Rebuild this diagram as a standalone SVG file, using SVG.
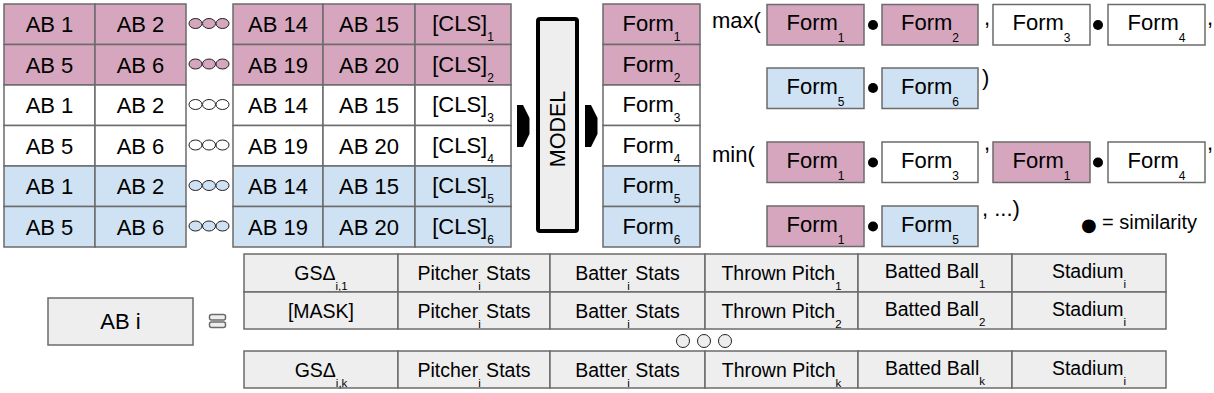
<svg xmlns="http://www.w3.org/2000/svg" width="1214" height="393" viewBox="0 0 1214 393">
<style>
.pk{fill:#d5a6bd}.wh{fill:#ffffff}.bl{fill:#cfe2f3}.gy{fill:#eeeeee}
.c{stroke:#6b6b6b;stroke-width:1.5}
.t{font-family:"Liberation Sans",Arial,sans-serif;font-size:22px;fill:#000;text-anchor:middle}
.l{font-family:"Liberation Sans",Arial,sans-serif;font-size:22px;fill:#000}
.s{font-size:12px}
.bt{font-family:"Liberation Sans",Arial,sans-serif;font-size:19.5px;fill:#000;text-anchor:middle}
.bs{font-size:11.5px;fill:#000}
.o{stroke:#222;stroke-width:1}
.dot{fill:#000}
</style>
<rect width="1214" height="393" fill="#fff"/>

<!-- Row 0 -->
<g id="r0">
<g id="r0c0"><rect class="pk c" x="4" y="4" width="91" height="40.5"/><text class="t" x="49.5" y="32">AB 1</text></g>
<g id="r0c1"><rect class="pk c" x="95" y="4" width="91" height="40.5"/><text class="t" x="140.5" y="32">AB 2</text></g>
<g id="r0dots"><ellipse class="pk o" cx="195.5" cy="23.5" rx="6.5" ry="5"/><ellipse class="pk o" cx="209" cy="23.5" rx="6.5" ry="5"/><ellipse class="pk o" cx="222.5" cy="23.5" rx="6.5" ry="5"/></g>
<g id="r0c2"><rect class="pk c" x="233" y="4" width="90" height="40.5"/><text class="t" x="278" y="32">AB 14</text></g>
<g id="r0c3"><rect class="pk c" x="323" y="4" width="92" height="40.5"/><text class="t" x="369" y="32">AB 15</text></g>
<g id="r0c4"><rect class="pk c" x="415" y="4" width="96" height="40.5"/><text class="t" x="463" y="31">[CLS]<tspan class="s" dy="10">1</tspan></text></g>
</g>
<!-- Row 1 -->
<g id="r1">
<g id="r1c0"><rect class="pk c" x="4" y="44.5" width="91" height="40.5"/><text class="t" x="49.5" y="72.5">AB 5</text></g>
<g id="r1c1"><rect class="pk c" x="95" y="44.5" width="91" height="40.5"/><text class="t" x="140.5" y="72.5">AB 6</text></g>
<g id="r1dots"><ellipse class="pk o" cx="195.5" cy="64" rx="6.5" ry="5"/><ellipse class="pk o" cx="209" cy="64" rx="6.5" ry="5"/><ellipse class="pk o" cx="222.5" cy="64" rx="6.5" ry="5"/></g>
<g id="r1c2"><rect class="pk c" x="233" y="44.5" width="90" height="40.5"/><text class="t" x="278" y="72.5">AB 19</text></g>
<g id="r1c3"><rect class="pk c" x="323" y="44.5" width="92" height="40.5"/><text class="t" x="369" y="72.5">AB 20</text></g>
<g id="r1c4"><rect class="pk c" x="415" y="44.5" width="96" height="40.5"/><text class="t" x="463" y="71.5">[CLS]<tspan class="s" dy="10">2</tspan></text></g>
</g>
<!-- Row 2 -->
<g id="r2">
<g id="r2c0"><rect class="wh c" x="4" y="85" width="91" height="40.5"/><text class="t" x="49.5" y="113">AB 1</text></g>
<g id="r2c1"><rect class="wh c" x="95" y="85" width="91" height="40.5"/><text class="t" x="140.5" y="113">AB 2</text></g>
<g id="r2dots"><ellipse class="wh o" cx="195.5" cy="104.5" rx="6.5" ry="5"/><ellipse class="wh o" cx="209" cy="104.5" rx="6.5" ry="5"/><ellipse class="wh o" cx="222.5" cy="104.5" rx="6.5" ry="5"/></g>
<g id="r2c2"><rect class="wh c" x="233" y="85" width="90" height="40.5"/><text class="t" x="278" y="113">AB 14</text></g>
<g id="r2c3"><rect class="wh c" x="323" y="85" width="92" height="40.5"/><text class="t" x="369" y="113">AB 15</text></g>
<g id="r2c4"><rect class="wh c" x="415" y="85" width="96" height="40.5"/><text class="t" x="463" y="112">[CLS]<tspan class="s" dy="10">3</tspan></text></g>
</g>
<!-- Row 3 -->
<g id="r3">
<g id="r3c0"><rect class="wh c" x="4" y="125.5" width="91" height="40.5"/><text class="t" x="49.5" y="153.5">AB 5</text></g>
<g id="r3c1"><rect class="wh c" x="95" y="125.5" width="91" height="40.5"/><text class="t" x="140.5" y="153.5">AB 6</text></g>
<g id="r3dots"><ellipse class="wh o" cx="195.5" cy="145" rx="6.5" ry="5"/><ellipse class="wh o" cx="209" cy="145" rx="6.5" ry="5"/><ellipse class="wh o" cx="222.5" cy="145" rx="6.5" ry="5"/></g>
<g id="r3c2"><rect class="wh c" x="233" y="125.5" width="90" height="40.5"/><text class="t" x="278" y="153.5">AB 19</text></g>
<g id="r3c3"><rect class="wh c" x="323" y="125.5" width="92" height="40.5"/><text class="t" x="369" y="153.5">AB 20</text></g>
<g id="r3c4"><rect class="wh c" x="415" y="125.5" width="96" height="40.5"/><text class="t" x="463" y="152.5">[CLS]<tspan class="s" dy="10">4</tspan></text></g>
</g>
<!-- Row 4 -->
<g id="r4">
<g id="r4c0"><rect class="bl c" x="4" y="166" width="91" height="40.5"/><text class="t" x="49.5" y="194">AB 1</text></g>
<g id="r4c1"><rect class="bl c" x="95" y="166" width="91" height="40.5"/><text class="t" x="140.5" y="194">AB 2</text></g>
<g id="r4dots"><ellipse class="bl o" cx="195.5" cy="185.5" rx="6.5" ry="5"/><ellipse class="bl o" cx="209" cy="185.5" rx="6.5" ry="5"/><ellipse class="bl o" cx="222.5" cy="185.5" rx="6.5" ry="5"/></g>
<g id="r4c2"><rect class="bl c" x="233" y="166" width="90" height="40.5"/><text class="t" x="278" y="194">AB 14</text></g>
<g id="r4c3"><rect class="bl c" x="323" y="166" width="92" height="40.5"/><text class="t" x="369" y="194">AB 15</text></g>
<g id="r4c4"><rect class="bl c" x="415" y="166" width="96" height="40.5"/><text class="t" x="463" y="193">[CLS]<tspan class="s" dy="10">5</tspan></text></g>
</g>
<!-- Row 5 -->
<g id="r5">
<g id="r5c0"><rect class="bl c" x="4" y="206.5" width="91" height="40.5"/><text class="t" x="49.5" y="234.5">AB 5</text></g>
<g id="r5c1"><rect class="bl c" x="95" y="206.5" width="91" height="40.5"/><text class="t" x="140.5" y="234.5">AB 6</text></g>
<g id="r5dots"><ellipse class="bl o" cx="195.5" cy="226" rx="6.5" ry="5"/><ellipse class="bl o" cx="209" cy="226" rx="6.5" ry="5"/><ellipse class="bl o" cx="222.5" cy="226" rx="6.5" ry="5"/></g>
<g id="r5c2"><rect class="bl c" x="233" y="206.5" width="90" height="40.5"/><text class="t" x="278" y="234.5">AB 19</text></g>
<g id="r5c3"><rect class="bl c" x="323" y="206.5" width="92" height="40.5"/><text class="t" x="369" y="234.5">AB 20</text></g>
<g id="r5c4"><rect class="bl c" x="415" y="206.5" width="96" height="40.5"/><text class="t" x="463" y="233.5">[CLS]<tspan class="s" dy="10">6</tspan></text></g>
</g>

<!-- Model -->
<g id="model">
<rect x="538" y="19" width="39" height="212" rx="2" fill="#eeeeee" stroke="#000" stroke-width="4"/>
<text class="t" style="font-size:21.5px" transform="translate(565,129) rotate(-90)" x="0" y="0">MODEL</text>
</g>

<!-- Form column -->
<g id="forms">
<g id="form1"><rect class="pk c" x="603" y="4" width="97" height="40.5"/><text class="t" x="651.5" y="31">Form<tspan class="s" dy="10">1</tspan></text></g>
<g id="form2"><rect class="pk c" x="603" y="44.5" width="97" height="40.5"/><text class="t" x="651.5" y="71.5">Form<tspan class="s" dy="10">2</tspan></text></g>
<g id="form3"><rect class="wh c" x="603" y="85" width="97" height="40.5"/><text class="t" x="651.5" y="112">Form<tspan class="s" dy="10">3</tspan></text></g>
<g id="form4"><rect class="wh c" x="603" y="125.5" width="97" height="40.5"/><text class="t" x="651.5" y="152.5">Form<tspan class="s" dy="10">4</tspan></text></g>
<g id="form5"><rect class="bl c" x="603" y="166" width="97" height="40.5"/><text class="t" x="651.5" y="193">Form<tspan class="s" dy="10">5</tspan></text></g>
<g id="form6"><rect class="bl c" x="603" y="206.5" width="97" height="40.5"/><text class="t" x="651.5" y="233.5">Form<tspan class="s" dy="10">6</tspan></text></g>
</g>

<!-- Connectors -->
<g id="connectors" fill="#000">
<polygon points="517,105 523,105 529.5,118 529.5,134 523,147 517,147"/>
<polygon points="585,105 591,105 597.5,118 597.5,134 591,147 585,147"/>
</g>

<!-- max expression -->
<g id="maxexpr">
<text class="l" x="712" y="28">max(</text>
<g id="mx1"><rect class="pk c" x="767" y="4.5" width="97" height="40.5"/><text class="t" x="815.5" y="30">Form<tspan class="s" dy="12">1</tspan></text></g>
<circle class="dot" cx="873" cy="25" r="5"/>
<g id="mx2"><rect class="pk c" x="882" y="4.5" width="96" height="40.5"/><text class="t" x="930" y="30">Form<tspan class="s" dy="12">2</tspan></text></g>
<text class="l" x="984" y="25">,</text>
<g id="mx3"><rect class="wh c" x="993" y="4.5" width="97" height="40.5"/><text class="t" x="1041.5" y="30">Form<tspan class="s" dy="12">3</tspan></text></g>
<circle class="dot" cx="1098" cy="25" r="5"/>
<g id="mx4"><rect class="wh c" x="1108" y="4.5" width="97" height="40.5"/><text class="t" x="1156.5" y="30">Form<tspan class="s" dy="12">4</tspan></text></g>
<text class="l" x="1207" y="25">,</text>
<g id="mx5"><rect class="bl c" x="767" y="68" width="97" height="40.5"/><text class="t" x="815.5" y="93.5">Form<tspan class="s" dy="12">5</tspan></text></g>
<circle class="dot" cx="873" cy="88" r="5"/>
<g id="mx6"><rect class="bl c" x="882" y="68" width="96" height="40.5"/><text class="t" x="930" y="93.5">Form<tspan class="s" dy="12">6</tspan></text></g>
<text class="l" x="982" y="85">)</text>
</g>

<!-- min expression -->
<g id="minexpr">
<text class="l" x="712" y="162">min(</text>
<g id="mn1"><rect class="pk c" x="767" y="142" width="97" height="40.5"/><text class="t" x="815.5" y="167.5">Form<tspan class="s" dy="12">1</tspan></text></g>
<circle class="dot" cx="873" cy="162.5" r="5"/>
<g id="mn2"><rect class="wh c" x="882" y="142" width="96" height="40.5"/><text class="t" x="930" y="167.5">Form<tspan class="s" dy="12">3</tspan></text></g>
<text class="l" x="984" y="150">,</text>
<g id="mn3"><rect class="pk c" x="993" y="142" width="97" height="40.5"/><text class="t" x="1041.5" y="167.5">Form<tspan class="s" dy="12">1</tspan></text></g>
<circle class="dot" cx="1098" cy="162.5" r="5"/>
<g id="mn4"><rect class="wh c" x="1108" y="142" width="97" height="40.5"/><text class="t" x="1156.5" y="167.5">Form<tspan class="s" dy="12">4</tspan></text></g>
<text class="l" x="1207" y="150">,</text>
<g id="mn5"><rect class="pk c" x="767" y="206" width="97" height="40.5"/><text class="t" x="815.5" y="231.5">Form<tspan class="s" dy="12">1</tspan></text></g>
<circle class="dot" cx="873" cy="226.5" r="5"/>
<g id="mn6"><rect class="bl c" x="882" y="206" width="96" height="40.5"/><text class="t" x="930" y="231.5">Form<tspan class="s" dy="12">5</tspan></text></g>
<text class="l" x="982" y="216">, ...)</text>
</g>

<g id="legend">
<text x="1081" y="231" font-family="'DejaVu Sans',sans-serif" font-size="18" fill="#000">●</text>
<text class="l" x="1102" y="229" style="font-size:20px">= similarity</text>
</g>

<!-- AB i -->
<g id="abi"><rect class="gy c" x="48" y="298" width="145" height="47"/><text class="t" x="120.5" y="329">AB i</text></g>
<g id="equiv"><rect class="gy c" x="209.5" y="314.5" width="16" height="5.5" rx="2" stroke-width="1"/><rect class="gy c" x="209.5" y="322" width="16" height="5.5" rx="2" stroke-width="1"/></g>

<!-- table row 1 -->
<g id="t1">
<g id="t1c0"><rect class="gy c" x="244" y="254" width="154" height="38"/><text class="bt" x="321" y="280">GSΔ<tspan class="bs" dy="10">i,1</tspan></text></g>
<g id="t1c1"><rect class="gy c" x="398" y="254" width="152" height="38"/><text class="bt" x="474" y="280">Pitcher<tspan class="bs" dy="10">i</tspan><tspan dy="-10"> Stats</tspan></text></g>
<g id="t1c2"><rect class="gy c" x="550" y="254" width="155" height="38"/><text class="bt" x="627.5" y="280">Batter<tspan class="bs" dy="10">i</tspan><tspan dy="-10"> Stats</tspan></text></g>
<g id="t1c3"><rect class="gy c" x="705" y="254" width="153" height="38"/><text class="bt" x="781.5" y="280">Thrown Pitch<tspan class="bs" dy="10">1</tspan></text></g>
<g id="t1c4"><rect class="gy c" x="858" y="254" width="154" height="38"/><text class="bt" x="935" y="278">Batted Ball<tspan class="bs" dy="10">1</tspan></text></g>
<g id="t1c5"><rect class="gy c" x="1012" y="254" width="154" height="38"/><text class="bt" x="1089" y="278">Stadium<tspan class="bs" dy="10">i</tspan></text></g>
</g>
<!-- table row 2 -->
<g id="t2">
<g id="t2c0"><rect class="gy c" x="244" y="292" width="154" height="37"/><text class="bt" x="321" y="318">[MASK]</text></g>
<g id="t2c1"><rect class="gy c" x="398" y="292" width="152" height="37"/><text class="bt" x="474" y="318">Pitcher<tspan class="bs" dy="10">i</tspan><tspan dy="-10"> Stats</tspan></text></g>
<g id="t2c2"><rect class="gy c" x="550" y="292" width="155" height="37"/><text class="bt" x="627.5" y="318">Batter<tspan class="bs" dy="10">i</tspan><tspan dy="-10"> Stats</tspan></text></g>
<g id="t2c3"><rect class="gy c" x="705" y="292" width="153" height="37"/><text class="bt" x="781.5" y="318">Thrown Pitch<tspan class="bs" dy="10">2</tspan></text></g>
<g id="t2c4"><rect class="gy c" x="858" y="292" width="154" height="37"/><text class="bt" x="935" y="316">Batted Ball<tspan class="bs" dy="10">2</tspan></text></g>
<g id="t2c5"><rect class="gy c" x="1012" y="292" width="154" height="37"/><text class="bt" x="1089" y="316">Stadium<tspan class="bs" dy="10">i</tspan></text></g>
</g>
<g id="tdots"><ellipse class="gy o" cx="683" cy="341" rx="6.5" ry="6.5"/><ellipse class="gy o" cx="704" cy="341" rx="6.5" ry="6.5"/><ellipse class="gy o" cx="725" cy="341" rx="6.5" ry="6.5"/></g>
<!-- table row k -->
<g id="t3">
<g id="t3c0"><rect class="gy c" x="244" y="351" width="154" height="37"/><text class="bt" x="321" y="377">GSΔ<tspan class="bs" dy="10">i,k</tspan></text></g>
<g id="t3c1"><rect class="gy c" x="398" y="351" width="152" height="37"/><text class="bt" x="474" y="377">Pitcher<tspan class="bs" dy="10">i</tspan><tspan dy="-10"> Stats</tspan></text></g>
<g id="t3c2"><rect class="gy c" x="550" y="351" width="155" height="37"/><text class="bt" x="627.5" y="377">Batter<tspan class="bs" dy="10">i</tspan><tspan dy="-10"> Stats</tspan></text></g>
<g id="t3c3"><rect class="gy c" x="705" y="351" width="153" height="37"/><text class="bt" x="781.5" y="377">Thrown Pitch<tspan class="bs" dy="10">k</tspan></text></g>
<g id="t3c4"><rect class="gy c" x="858" y="351" width="154" height="37"/><text class="bt" x="935" y="375">Batted Ball<tspan class="bs" dy="10">k</tspan></text></g>
<g id="t3c5"><rect class="gy c" x="1012" y="351" width="154" height="37"/><text class="bt" x="1089" y="375">Stadium<tspan class="bs" dy="10">i</tspan></text></g>
</g>
</svg>
